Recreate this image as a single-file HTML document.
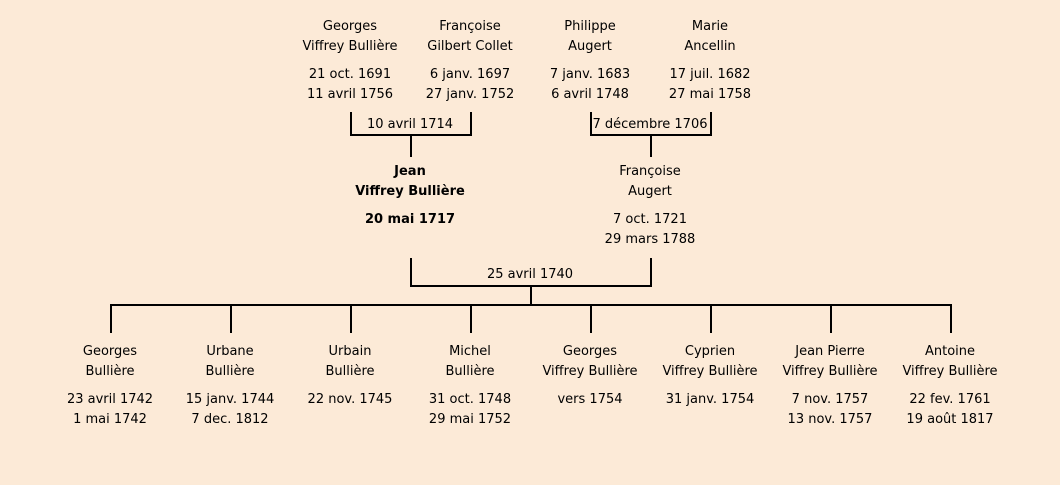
<!DOCTYPE html>
<html><head><meta charset="utf-8"><style>
body{margin:0;width:1060px;height:485px;background:#fcead7;position:relative;overflow:hidden;font-family:"DejaVu Sans","Liberation Sans",sans-serif;font-size:13px;color:#000}
.t{position:absolute;width:200px;margin-left:-100px;text-align:center;line-height:20px;white-space:nowrap}
.b{font-weight:bold}
.h{position:absolute;height:2px;background:#000}
.v{position:absolute;width:2px;background:#000}
</style></head><body>
<div class="t" style="left:350px;top:17px">Georges<br>Viffrey Bullière</div>
<div class="t" style="left:350px;top:65px">21 oct. 1691<br>11 avril 1756</div>
<div class="t" style="left:470px;top:17px">Françoise<br>Gilbert Collet</div>
<div class="t" style="left:470px;top:65px">6 janv. 1697<br>27 janv. 1752</div>
<div class="t" style="left:590px;top:17px">Philippe<br>Augert</div>
<div class="t" style="left:590px;top:65px">7 janv. 1683<br>6 avril 1748</div>
<div class="t" style="left:710px;top:17px">Marie<br>Ancellin</div>
<div class="t" style="left:710px;top:65px">17 juil. 1682<br>27 mai 1758</div>

<div class="v" style="left:350px;top:112px;height:24px"></div>
<div class="v" style="left:470px;top:112px;height:24px"></div>
<div class="h" style="left:350px;top:134px;width:122px"></div>
<div class="t" style="left:410px;top:115px">10 avril 1714</div>
<div class="v" style="left:410px;top:135px;height:22px"></div>

<div class="v" style="left:590px;top:112px;height:24px"></div>
<div class="v" style="left:710px;top:112px;height:24px"></div>
<div class="h" style="left:590px;top:134px;width:122px"></div>
<div class="t" style="left:650px;top:115px">7 décembre 1706</div>
<div class="v" style="left:650px;top:135px;height:22px"></div>

<div class="t b" style="left:410px;top:162px">Jean<br>Viffrey Bullière</div>
<div class="t b" style="left:410px;top:210px">20 mai 1717</div>
<div class="t" style="left:650px;top:162px">Françoise<br>Augert</div>
<div class="t" style="left:650px;top:210px">7 oct. 1721<br>29 mars 1788</div>

<div class="v" style="left:410px;top:258px;height:29px"></div>
<div class="v" style="left:650px;top:258px;height:29px"></div>
<div class="h" style="left:410px;top:285px;width:242px"></div>
<div class="t" style="left:530px;top:265px">25 avril 1740</div>
<div class="v" style="left:530px;top:286px;height:19px"></div>
<div class="h" style="left:110px;top:304px;width:842px"></div>
<div class="v" style="left:110px;top:304px;height:29px"></div>
<div class="v" style="left:230px;top:304px;height:29px"></div>
<div class="v" style="left:350px;top:304px;height:29px"></div>
<div class="v" style="left:470px;top:304px;height:29px"></div>
<div class="v" style="left:590px;top:304px;height:29px"></div>
<div class="v" style="left:710px;top:304px;height:29px"></div>
<div class="v" style="left:830px;top:304px;height:29px"></div>
<div class="v" style="left:950px;top:304px;height:29px"></div>

<div class="t" style="left:110px;top:342px">Georges<br>Bullière</div>
<div class="t" style="left:110px;top:390px">23 avril 1742<br>1 mai 1742</div>
<div class="t" style="left:230px;top:342px">Urbane<br>Bullière</div>
<div class="t" style="left:230px;top:390px">15 janv. 1744<br>7 dec. 1812</div>
<div class="t" style="left:350px;top:342px">Urbain<br>Bullière</div>
<div class="t" style="left:350px;top:390px">22 nov. 1745</div>
<div class="t" style="left:470px;top:342px">Michel<br>Bullière</div>
<div class="t" style="left:470px;top:390px">31 oct. 1748<br>29 mai 1752</div>
<div class="t" style="left:590px;top:342px">Georges<br>Viffrey Bullière</div>
<div class="t" style="left:590px;top:390px">vers 1754</div>
<div class="t" style="left:710px;top:342px">Cyprien<br>Viffrey Bullière</div>
<div class="t" style="left:710px;top:390px">31 janv. 1754</div>
<div class="t" style="left:830px;top:342px">Jean Pierre<br>Viffrey Bullière</div>
<div class="t" style="left:830px;top:390px">7 nov. 1757<br>13 nov. 1757</div>
<div class="t" style="left:950px;top:342px">Antoine<br>Viffrey Bullière</div>
<div class="t" style="left:950px;top:390px">22 fev. 1761<br>19 août 1817</div>
</body></html>
